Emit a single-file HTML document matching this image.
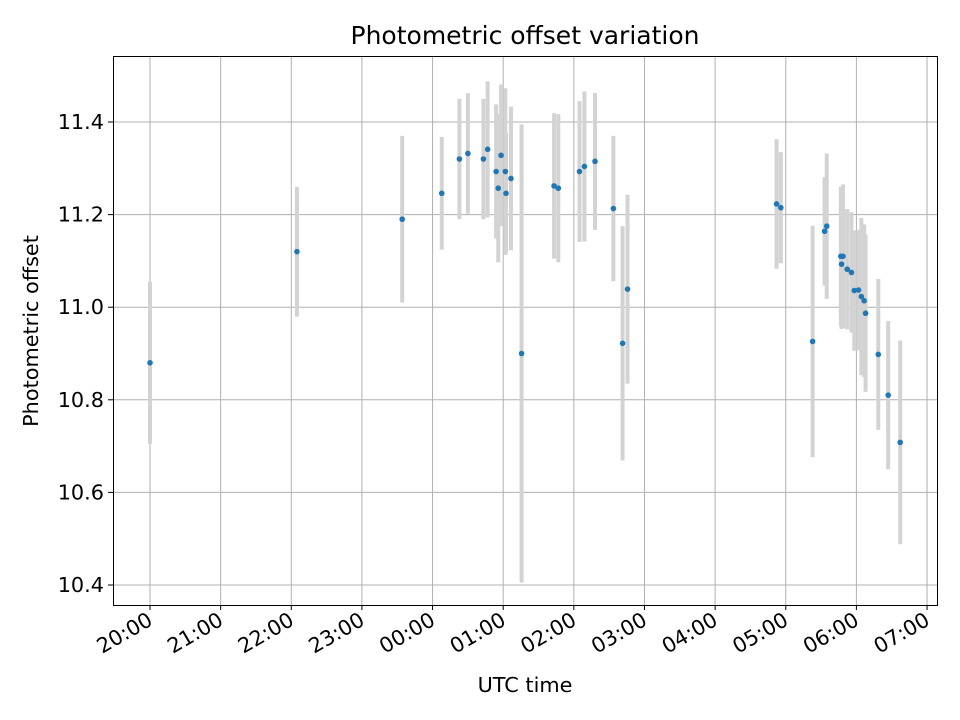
<!DOCTYPE html>
<html><head><meta charset="utf-8"><style>
body{margin:0;background:#fff}
svg{display:block;font-family:"DejaVu Sans","Liberation Sans",sans-serif}
</style></head><body>
<svg id="chart" width="960" height="720" viewBox="0 0 960 720" xmlns="http://www.w3.org/2000/svg">
<rect width="960" height="720" fill="#fff"/>
<g id="grid"></g>
<g id="errs"></g>
<g id="pts"></g>
<rect x="113.5" y="56.5" width="824" height="549" fill="none" stroke="#000" stroke-width="1"/>
<g id="axes"></g>
<text x="525" y="44" text-anchor="middle" font-size="25">Photometric offset variation</text>
<text x="525" y="692" text-anchor="middle" font-size="20.8">UTC time</text>
<text transform="translate(38,331) rotate(-90)" text-anchor="middle" font-size="20.8">Photometric offset</text>
</svg>
<script>
// hours after 20:00 UTC
const times=[0,2.08,3.57,4.13,4.38,4.50,4.72,4.78,4.90,4.93,4.97,5.03,5.04,5.11,5.26,5.72,5.78,6.08,6.15,6.30,6.56,6.69,6.76,8.87,8.93,9.38,9.55,9.58,9.78,9.81,9.79,9.87,9.93,9.97,10.03,10.07,10.11,10.13,10.31,10.45,10.62];
const values=[10.88,11.12,11.19,11.246,11.32,11.332,11.32,11.341,11.293,11.257,11.328,11.293,11.246,11.278,10.90,11.262,11.257,11.293,11.304,11.315,11.213,10.922,11.039,11.223,11.215,10.926,11.164,11.175,11.11,11.11,11.093,11.082,11.075,11.036,11.037,11.023,11.014,10.987,10.898,10.81,10.708];
const errors=[0.175,0.14,0.18,0.122,0.13,0.13,0.13,0.147,0.145,0.16,0.153,0.18,0.13,0.155,0.495,0.157,0.16,0.152,0.162,0.148,0.157,0.253,0.204,0.14,0.12,0.25,0.117,0.157,0.15,0.155,0.14,0.13,0.13,0.13,0.13,0.17,0.165,0.17,0.163,0.16,0.22];
const xTickLabels=["20:00","21:00","22:00","23:00","00:00","01:00","02:00","03:00","04:00","05:00","06:00","07:00"];
const yTicks=[10.4,10.6,10.8,11.0,11.2,11.4];
const NS="http://www.w3.org/2000/svg";
const X=h=>150+h*70.64;
const Y=v=>122+(11.4-v)*463;
function mk(tag,attrs,parent){const e=document.createElementNS(NS,tag);for(const k in attrs)e.setAttribute(k,attrs[k]);parent.appendChild(e);return e;}
const grid=document.getElementById('grid'),axes=document.getElementById('axes'),errs=document.getElementById('errs'),pts=document.getElementById('pts');
xTickLabels.forEach((lab,i)=>{
  const x=X(i);
  const g=mk('line',{x1:x,x2:x,y1:56,y2:605,stroke:'#b0b0b0','stroke-width':1},grid);
  
  
  const t=mk('line',{x1:x,x2:x,y1:605,y2:610,stroke:'#000'},axes);
  
  
  const tx=mk('text',{transform:`translate(${x+4},${624}) rotate(-30)`,'text-anchor':'end','font-size':20.8},axes);
  tx.textContent=lab;
  
  
});
yTicks.forEach(v=>{
  const y=Y(v);
  const g=mk('line',{x1:113,x2:937,y1:y,y2:y,stroke:'#b0b0b0','stroke-width':1},grid);
  
  
  const t=mk('line',{x1:108,x2:113,y1:y,y2:y,stroke:'#000'},axes);
  
  
  const tx=mk('text',{x:104,y:y+7,'text-anchor':'end','font-size':20.8},axes);
  tx.textContent=v.toFixed(1);
  
  
});
times.forEach((h,i)=>{
  const x=X(h);
  const e=mk('line',{x1:x,x2:x,y1:Y(values[i]+errors[i]),y2:Y(values[i]-errors[i]),stroke:'#d3d3d3','stroke-width':4},errs);
  
  
});
times.forEach((h,i)=>{
  const c=mk('circle',{cx:X(h),cy:Y(values[i]),r:2.8,fill:'#1f77b4'},pts);
  
  
});
</script>
</body></html>
